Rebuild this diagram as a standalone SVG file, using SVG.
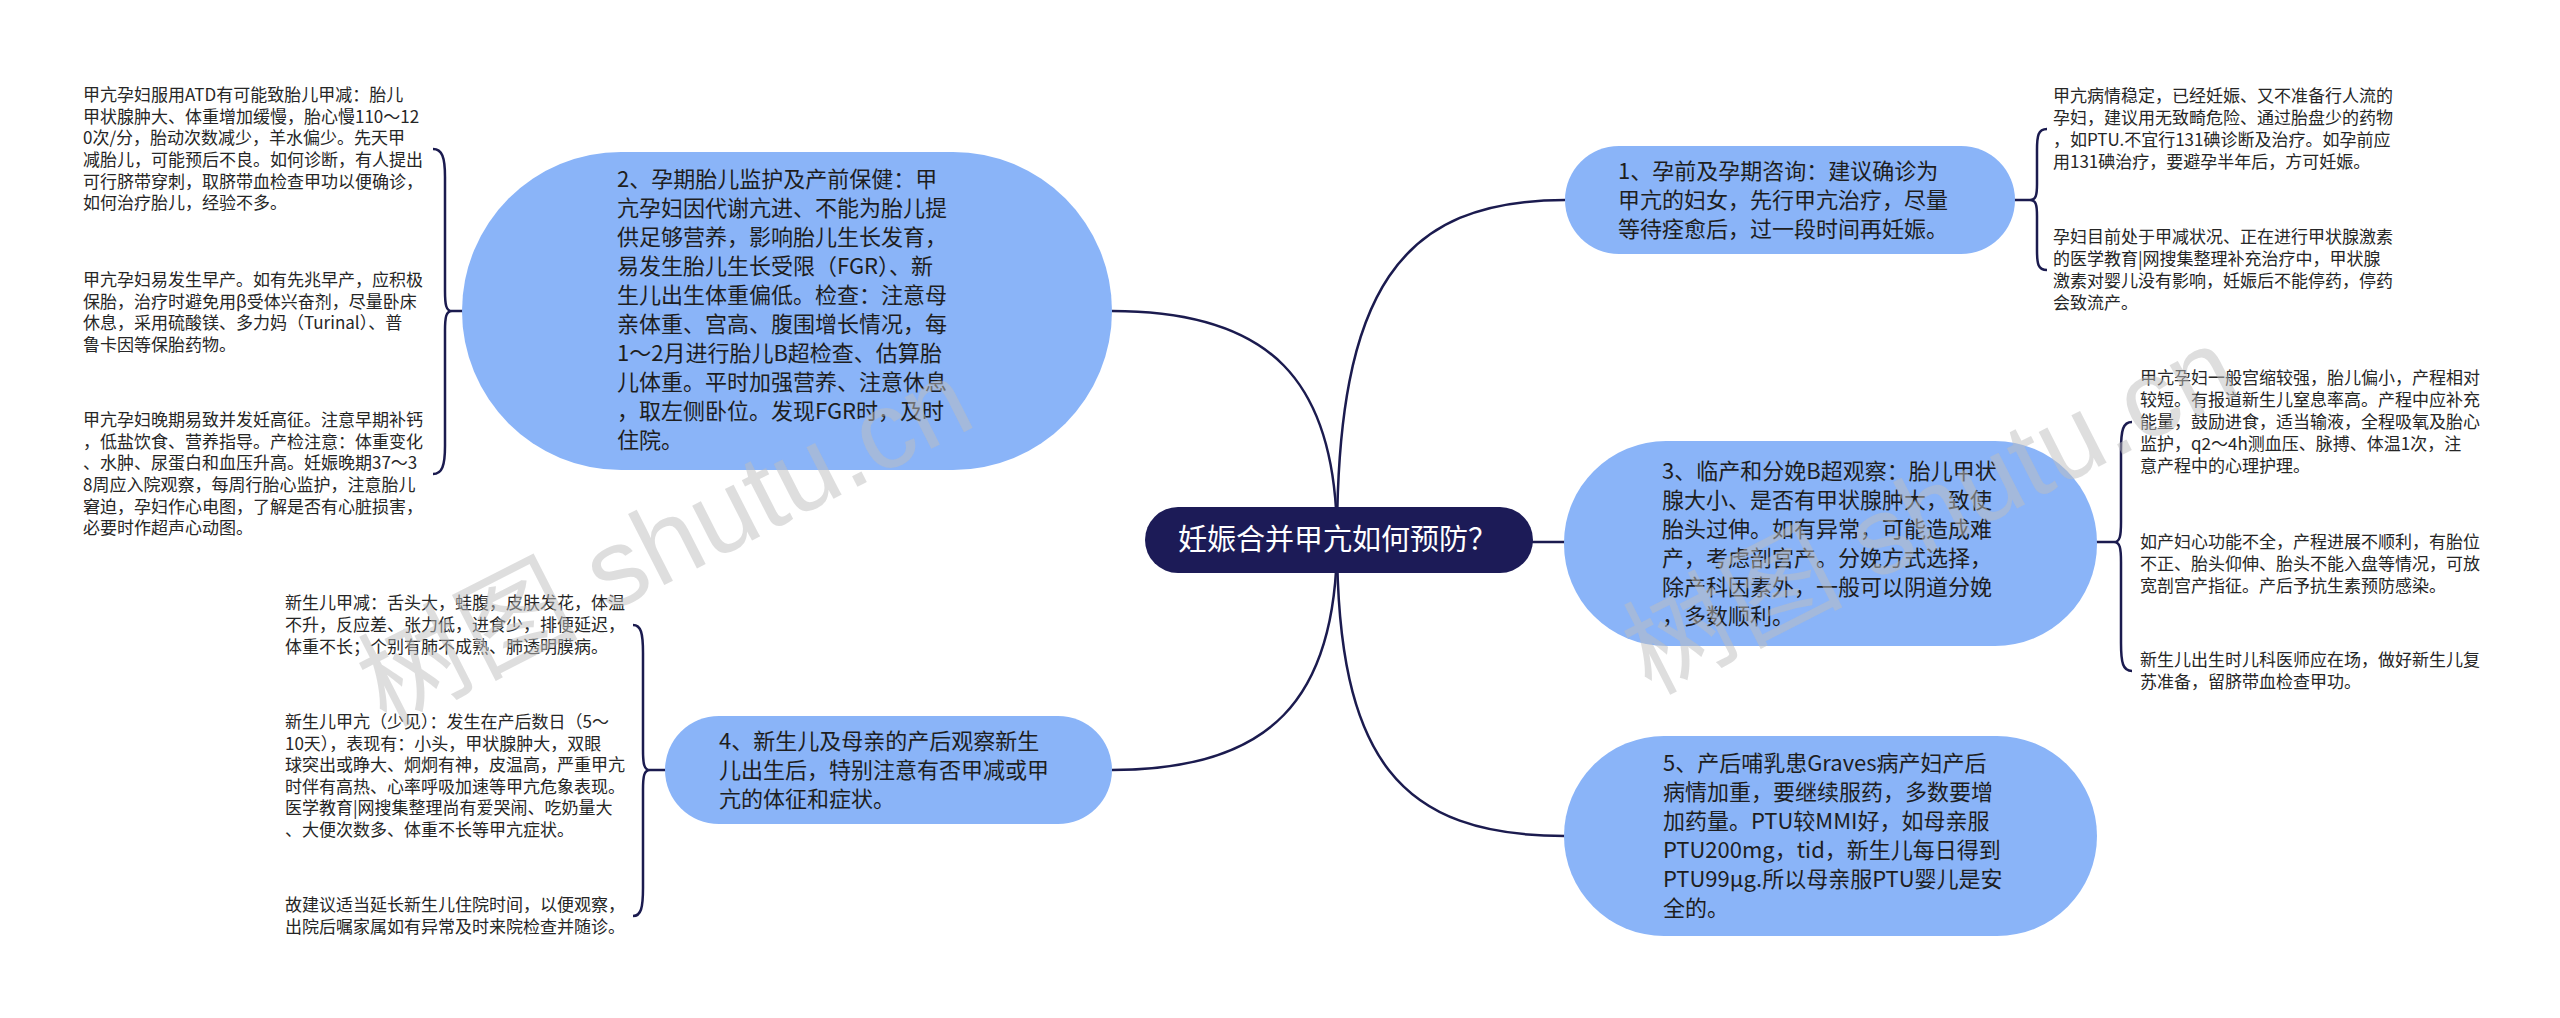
<svg xmlns="http://www.w3.org/2000/svg" width="2560" height="1018" viewBox="0 0 2560 1018">
<style>
text { font-family: "Noto Sans CJK SC", "Noto Sans", sans-serif; }
.bg { fill: #ffffff; }
.main { fill: #8ab4f8; }
.root { fill: #1c1b57; }
.rootText { fill: #ffffff; font-size: 29px; }
.mainText { fill: #1e1e1e; font-size: 22px; }
.leafText { fill: #262626; font-size: 17px; }
.link { fill: none; stroke: #1b1b4f; stroke-width: 2.5; }
.wm { fill: #bdbdbd; fill-opacity: 0.5; font-size: 110px; font-family: "Liberation Sans", "Noto Sans CJK SC", sans-serif; }
</style>
<rect class="bg" x="0" y="0" width="2560" height="1018"/>

<g id="connectors">
  <path class="link" d="M1337,540 C1337,380 1270,311 1112,311"/>
  <path class="link" d="M1337,540 C1337,700 1270,770 1112,770"/>
  <path class="link" d="M1337,540 C1337,290 1400,200 1565,200"/>
  <path class="link" d="M1337,540 C1337,760 1400,836 1565,836"/>
  <path class="link" d="M1500,542 L1566,542"/>
  <!-- node 1 bracket -->
  <path class="link" d="M2014,200 L2030,200"/>
  <path class="link" d="M2047,129 C2038,129 2037,136 2037,150 L2037,184 C2037,195 2036,200 2030,200 C2036,200 2037,205 2037,216 L2037,250 C2037,264 2038,270 2047,270"/>
  <!-- node 3 bracket -->
  <path class="link" d="M2096,542 L2114,542"/>
  <path class="link" d="M2132,422 C2123,422 2121,430 2121,450 L2121,522 C2121,536 2120,542 2114,542 C2120,542 2121,548 2121,562 L2121,643 C2121,663 2123,671 2132,671"/>
  <!-- node 2 bracket -->
  <path class="link" d="M463,311 L452,311"/>
  <path class="link" d="M433,149 C442,149 445,157 445,177 L445,291 C445,305 446,311 452,311 C446,311 445,317 445,331 L445,446 C445,466 442,474 433,474"/>
  <!-- node 4 bracket -->
  <path class="link" d="M666,770 L650,770"/>
  <path class="link" d="M633,625 C641,625 643,633 643,653 L643,750 C643,764 644,770 650,770 C644,770 643,776 643,790 L643,888 C643,908 641,916 633,916"/>
</g>

<g id="node-root">
  <rect class="root" x="1145" y="507" width="388" height="66" rx="33" ry="33"/>
  <text class="rootText" x="1178" y="550">妊娠合并甲亢如何预防？</text>
</g>

<g id="node-1">
  <rect class="main" x="1565" y="146" width="450" height="108" rx="54" ry="54"/>
  <text class="mainText" x="1618" y="179">
    <tspan x="1618" y="179">1、孕前及孕期咨询：建议确诊为</tspan>
    <tspan x="1618" y="208">甲亢的妇女，先行甲亢治疗，尽量</tspan>
    <tspan x="1618" y="237">等待痊愈后，过一段时间再妊娠。</tspan>
  </text>
</g>

<g id="node-2">
  <rect class="main" x="462" y="152" width="650" height="318" rx="159" ry="159"/>
  <text class="mainText">
    <tspan x="617" y="187">2、孕期胎儿监护及产前保健：甲</tspan>
    <tspan x="617" y="216">亢孕妇因代谢亢进、不能为胎儿提</tspan>
    <tspan x="617" y="245">供足够营养，影响胎儿生长发育，</tspan>
    <tspan x="617" y="274">易发生胎儿生长受限（FGR）、新</tspan>
    <tspan x="617" y="303">生儿出生体重偏低。检查：注意母</tspan>
    <tspan x="617" y="332">亲体重、宫高、腹围增长情况，每</tspan>
    <tspan x="617" y="361">1～2月进行胎儿B超检查、估算胎</tspan>
    <tspan x="617" y="390">儿体重。平时加强营养、注意休息</tspan>
    <tspan x="617" y="419">，取左侧卧位。发现FGR时，及时</tspan>
    <tspan x="617" y="448">住院。</tspan>
  </text>
</g>

<g id="node-3">
  <rect class="main" x="1564" y="441" width="533" height="205" rx="102" ry="102"/>
  <text class="mainText">
    <tspan x="1662" y="479">3、临产和分娩B超观察：胎儿甲状</tspan>
    <tspan x="1662" y="508">腺大小、是否有甲状腺肿大，致使</tspan>
    <tspan x="1662" y="537">胎头过伸。如有异常，可能造成难</tspan>
    <tspan x="1662" y="566">产，考虑剖宫产。分娩方式选择，</tspan>
    <tspan x="1662" y="595">除产科因素外，一般可以阴道分娩</tspan>
    <tspan x="1662" y="624">，多数顺利。</tspan>
  </text>
</g>

<g id="node-4">
  <rect class="main" x="665" y="716" width="447" height="108" rx="54" ry="54"/>
  <text class="mainText">
    <tspan x="719" y="749">4、新生儿及母亲的产后观察新生</tspan>
    <tspan x="719" y="778">儿出生后，特别注意有否甲减或甲</tspan>
    <tspan x="719" y="807">亢的体征和症状。</tspan>
  </text>
</g>

<g id="node-5">
  <rect class="main" x="1564" y="736" width="533" height="200" rx="100" ry="100"/>
  <text class="mainText">
    <tspan x="1663" y="771">5、产后哺乳患Graves病产妇产后</tspan>
    <tspan x="1663" y="800">病情加重，要继续服药，多数要增</tspan>
    <tspan x="1663" y="829">加药量。PTU较MMI好，如母亲服</tspan>
    <tspan x="1663" y="858">PTU200mg，tid，新生儿每日得到</tspan>
    <tspan x="1663" y="887">PTU99μg.所以母亲服PTU婴儿是安</tspan>
    <tspan x="1663" y="916">全的。</tspan>
  </text>
</g>

<g id="leaf-1a">
  <text class="leafText">
    <tspan x="2053" y="102">甲亢病情稳定，已经妊娠、又不准备行人流的</tspan>
    <tspan x="2053" y="124">孕妇，建议用无致畸危险、通过胎盘少的药物</tspan>
    <tspan x="2053" y="146">，如PTU.不宜行131碘诊断及治疗。如孕前应</tspan>
    <tspan x="2053" y="168">用131碘治疗，要避孕半年后，方可妊娠。</tspan>
  </text>
</g>
<g id="leaf-1b">
  <text class="leafText">
    <tspan x="2053" y="243">孕妇目前处于甲减状况、正在进行甲状腺激素</tspan>
    <tspan x="2053" y="265">的医学教育|网搜集整理补充治疗中，甲状腺</tspan>
    <tspan x="2053" y="287">激素对婴儿没有影响，妊娠后不能停药，停药</tspan>
    <tspan x="2053" y="309">会致流产。</tspan>
  </text>
</g>

<g id="leaf-2a">
  <text class="leafText">
    <tspan x="83" y="101">甲亢孕妇服用ATD有可能致胎儿甲减：胎儿</tspan>
    <tspan x="83" y="123">甲状腺肿大、体重增加缓慢，胎心慢110～12</tspan>
    <tspan x="83" y="144">0次/分，胎动次数减少，羊水偏少。先天甲</tspan>
    <tspan x="83" y="166">减胎儿，可能预后不良。如何诊断，有人提出</tspan>
    <tspan x="83" y="188">可行脐带穿刺，取脐带血检查甲功以便确诊，</tspan>
    <tspan x="83" y="209">如何治疗胎儿，经验不多。</tspan>
  </text>
</g>
<g id="leaf-2b">
  <text class="leafText">
    <tspan x="83" y="286">甲亢孕妇易发生早产。如有先兆早产，应积极</tspan>
    <tspan x="83" y="308">保胎，治疗时避免用β受体兴奋剂，尽量卧床</tspan>
    <tspan x="83" y="329">休息，采用硫酸镁、多力妈（Turinal）、普</tspan>
    <tspan x="83" y="351">鲁卡因等保胎药物。</tspan>
  </text>
</g>
<g id="leaf-2c">
  <text class="leafText">
    <tspan x="83" y="426">甲亢孕妇晚期易致并发妊高征。注意早期补钙</tspan>
    <tspan x="83" y="448">，低盐饮食、营养指导。产检注意：体重变化</tspan>
    <tspan x="83" y="469">、水肿、尿蛋白和血压升高。妊娠晚期37～3</tspan>
    <tspan x="83" y="491">8周应入院观察，每周行胎心监护，注意胎儿</tspan>
    <tspan x="83" y="513">窘迫，孕妇作心电图，了解是否有心脏损害，</tspan>
    <tspan x="83" y="534">必要时作超声心动图。</tspan>
  </text>
</g>

<g id="leaf-3a">
  <text class="leafText">
    <tspan x="2140" y="384">甲亢孕妇一般宫缩较强，胎儿偏小，产程相对</tspan>
    <tspan x="2140" y="406">较短。有报道新生儿窒息率高。产程中应补充</tspan>
    <tspan x="2140" y="428">能量，鼓励进食，适当输液，全程吸氧及胎心</tspan>
    <tspan x="2140" y="450">监护，q2～4h测血压、脉搏、体温1次，注</tspan>
    <tspan x="2140" y="472">意产程中的心理护理。</tspan>
  </text>
</g>
<g id="leaf-3b">
  <text class="leafText">
    <tspan x="2140" y="548">如产妇心功能不全，产程进展不顺利，有胎位</tspan>
    <tspan x="2140" y="570">不正、胎头仰伸、胎头不能入盘等情况，可放</tspan>
    <tspan x="2140" y="592">宽剖宫产指征。产后予抗生素预防感染。</tspan>
  </text>
</g>
<g id="leaf-3c">
  <text class="leafText">
    <tspan x="2140" y="666">新生儿出生时儿科医师应在场，做好新生儿复</tspan>
    <tspan x="2140" y="688">苏准备，留脐带血检查甲功。</tspan>
  </text>
</g>

<g id="leaf-4a">
  <text class="leafText">
    <tspan x="285" y="609">新生儿甲减：舌头大，蛙腹，皮肤发花，体温</tspan>
    <tspan x="285" y="631">不升，反应差、张力低，进食少，排便延迟，</tspan>
    <tspan x="285" y="653">体重不长；个别有肺不成熟、肺透明膜病。</tspan>
  </text>
</g>
<g id="leaf-4b">
  <text class="leafText">
    <tspan x="285" y="728">新生儿甲亢（少见）：发生在产后数日（5～</tspan>
    <tspan x="285" y="750">10天），表现有：小头，甲状腺肿大，双眼</tspan>
    <tspan x="285" y="771">球突出或睁大、炯炯有神，皮温高，严重甲亢</tspan>
    <tspan x="285" y="793">时伴有高热、心率呼吸加速等甲亢危象表现。</tspan>
    <tspan x="285" y="814">医学教育|网搜集整理尚有爱哭闹、吃奶量大</tspan>
    <tspan x="285" y="836">、大便次数多、体重不长等甲亢症状。</tspan>
  </text>
</g>
<g id="leaf-4c">
  <text class="leafText">
    <tspan x="285" y="911">故建议适当延长新生儿住院时间，以便观察，</tspan>
    <tspan x="285" y="933">出院后嘱家属如有异常及时来院检查并随诊。</tspan>
  </text>
</g>

<g id="watermark">
  <text class="wm" x="665" y="580" text-anchor="middle" transform="rotate(-27 665 542)">树图 shutu.cn</text>
  <text class="wm" x="1930" y="548" text-anchor="middle" transform="rotate(-27 1930 510)">树图 shutu.cn</text>
</g>
</svg>
